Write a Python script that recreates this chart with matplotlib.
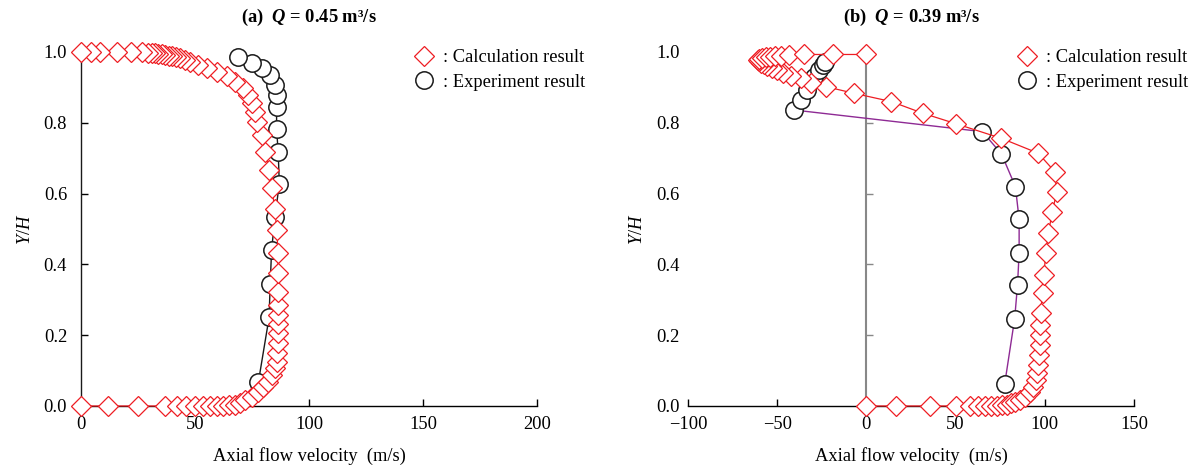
import matplotlib
matplotlib.use("Agg")
import matplotlib.pyplot as plt
from matplotlib.lines import Line2D

plt.rcParams['font.family'] = ['Liberation Serif', 'DejaVu Serif']
plt.rcParams['mathtext.fontset'] = 'custom'
plt.rcParams['mathtext.rm'] = 'Liberation Serif'
plt.rcParams['mathtext.it'] = 'Liberation Serif:italic'
plt.rcParams['mathtext.bf'] = 'Liberation Serif:bold'
plt.rcParams['mathtext.bfit'] = 'Liberation Serif:italic:bold'

# ---- (a) Q = 0.45 m3/s ----
calc_a_v = [0, 12, 25, 37, 42, 46, 50, 53.5, 56.5, 59.5,
            62.4, 65, 67.5, 69.7, 72, 75, 77.8, 80, 82.2, 83.6,
            85.1, 85.8, 86.1, 86.5, 86.5, 86.5, 86.3, 86.5, 86.5, 86.5,
            86.5, 85.8, 85.1, 83.6, 82.6, 80.7, 79.2, 77.0, 76.3, 74.9,
            73.4, 71.2, 67.5, 63.9, 59.5, 55.1, 51.5, 47.8, 45.5, 43.5,
            41.5, 40, 38.5, 37, 35.5, 34, 32.5, 31, 29.5, 26.6,
            22, 15.6, 8.3, 4.5, 0]
calc_a_y = [0, 0, 0, 0, 0, 0, 0, 0, 0, 0,
            0.001, 0.002, 0.004, 0.008, 0.017, 0.026, 0.040, 0.055, 0.069, 0.088,
            0.106, 0.125, 0.149, 0.177, 0.205, 0.232, 0.257, 0.285, 0.323, 0.375,
            0.433, 0.497, 0.556, 0.615, 0.667, 0.718, 0.766, 0.803, 0.831, 0.855,
            0.879, 0.897, 0.916, 0.932, 0.944, 0.954, 0.963, 0.973, 0.978, 0.982,
            0.985, 0.988, 0.990, 0.992, 0.994, 0.995, 0.996, 0.997, 0.998, 0.999,
            1.0, 1.0, 1.0, 1.0, 1.0]
exp_a_v = [77.8, 82.5, 83.0, 83.6, 85.1, 87.0, 86.5, 85.8, 85.8, 85.8,
           85.1, 82.9, 79.2, 74.9, 69.0]
exp_a_y = [0.067, 0.250, 0.345, 0.440, 0.535, 0.628, 0.717, 0.782, 0.845, 0.879,
           0.907, 0.935, 0.954, 0.968, 0.987]

# ---- (b) Q = 0.39 m3/s ----
calc_b_v = [0, 16.7, 35.4, 50, 58, 62.5, 66.5, 70, 73, 76,
            79, 81.3, 83.1, 86, 88.8, 91.6, 93.4, 95, 95.7, 96.3,
            96.8, 97.2, 97.2, 97.4, 97.6, 98.7, 99.4, 100.6, 101.9, 104.3,
            106.6, 105.6, 96.3, 75.7, 50.4, 31.6, 13.9, -6.7, -22.6, -31.1,
            -36.7, -42.3, -47, -50, -53, -55.5, -57.5, -59, -60, -60.5,
            -60, -58.5, -56.5, -54, -51, -48, -43.3, -35, -19, 0]
calc_b_y = [0, 0, 0, 0, 0, 0, 0, 0, 0.001, 0.002,
            0.004, 0.008, 0.012, 0.017, 0.026, 0.040, 0.055, 0.073, 0.092, 0.116,
            0.144, 0.172, 0.200, 0.229, 0.262, 0.318, 0.370, 0.431, 0.488, 0.549,
            0.605, 0.662, 0.714, 0.756, 0.797, 0.827, 0.860, 0.883, 0.902, 0.912,
            0.926, 0.932, 0.940, 0.948, 0.955, 0.961, 0.966, 0.970, 0.974, 0.977,
            0.980, 0.983, 0.985, 0.987, 0.989, 0.990, 0.991, 0.993, 0.993, 0.993]
exp_b_v = [77.5, 83.1, 84.7, 85.6, 85.6, 83.5, 75.7, 65.0, -40.4, -36.7,
           -33.2, -29.2, -26.5, -24.5, -23.0]
exp_b_y = [0.062, 0.247, 0.342, 0.433, 0.527, 0.620, 0.712, 0.775, 0.836, 0.865,
           0.892, 0.930, 0.949, 0.963, 0.973]

x_ticks_a = [0, 50, 100, 150, 200]
x_ticks_b = [-100, -50, 0, 50, 100, 150]
y_ticks = [0.0, 0.2, 0.4, 0.6, 0.8, 1.0]

RED = '#ee1d23'
FS = 13.3

fig = plt.figure(figsize=(11.98, 4.68), dpi=100)
ax_a = fig.add_axes([0.0676, 0.1325, 0.3806, 0.7564])
ax_b = fig.add_axes([0.5743, 0.1325, 0.3723, 0.7564])


def draw_panel(ax, cv, cy, ev, ey, exp_line_color, xlim, xticks, title, leg_x):
    ax.plot(ev, ey, color=exp_line_color, lw=1.0, marker='o', ms=12.5,
            mfc='white', mec='#1a1a1a', mew=1.1, clip_on=False, zorder=3)
    ax.plot(cv, cy, color=RED, lw=0.9, marker='D', ms=10.5,
            mfc='white', mec=RED, mew=0.9, clip_on=False, zorder=4)
    ax.set_xlim(*xlim)
    ax.set_ylim(0, 1.0)
    ax.set_xticks(xticks)
    ax.set_yticks(y_ticks)
    ax.set_yticklabels([f"{t:.1f}" for t in y_ticks])
    for s in ['top', 'right']:
        ax.spines[s].set_visible(False)
    ax.spines['bottom'].set_linewidth(1.0)
    ax.spines['left'].set_linewidth(1.0)
    ax.tick_params(axis='x', direction='in', length=5, width=1.0,
                   labelsize=FS, pad=7)
    ax.set_xlabel('Axial flow velocity  (m/s)', fontsize=FS, labelpad=10)
    ax.set_ylabel('$Y/H$', fontsize=FS, labelpad=7)
    ax.set_title(title, fontsize=FS, fontweight='bold', pad=22)
    handles = [
        Line2D([], [], ls='none', marker='D', ms=10.5, mfc='white', mec=RED, mew=0.9),
        Line2D([], [], ls='none', marker='o', ms=12.5, mfc='white', mec='#1a1a1a', mew=1.1),
    ]
    ax.legend(handles, [': Calculation result', ': Experiment result'],
              loc='upper left', bbox_to_anchor=(leg_x, 1.008), frameon=False,
              fontsize=FS, borderpad=0, borderaxespad=0, handlelength=1.2,
              handletextpad=0.43, labelspacing=0.42)


draw_panel(ax_a, calc_a_v, calc_a_y, exp_a_v, exp_a_y, '#1a1a1a', (0, 200),
           x_ticks_a, r'(a)  $\mathbfit{Q}$ = 0.45 m³/s', 0.728)
ax_a.spines['left'].set_color('#1a1a1a')
ax_a.tick_params(axis='y', direction='in', length=5, width=1.0,
                 labelsize=FS, pad=10)

draw_panel(ax_b, calc_b_v, calc_b_y, exp_b_v, exp_b_y, '#8e2a94', (-100, 150),
           x_ticks_b, r'(b)  $\mathbfit{Q}$ = 0.39 m³/s', 0.735)
# y labels sit at the left edge; the axis line itself runs through zero velocity
ax_b.spines['left'].set_visible(False)
ax_b.tick_params(axis='y', length=0, labelsize=FS, pad=6)
zero_frac = (0 - (-100)) / (150 - (-100))
sec = ax_b.secondary_yaxis(zero_frac)
sec.set_yticks(y_ticks)
sec.tick_params(axis='y', direction='in', length=5, width=1.0,
                color='#888888', labelleft=False, labelright=False)
sec.spines['left'].set_color('#888888')
sec.spines['left'].set_linewidth(1.5)
sec.set_zorder(1)

fig.savefig('out.png', dpi=100)
